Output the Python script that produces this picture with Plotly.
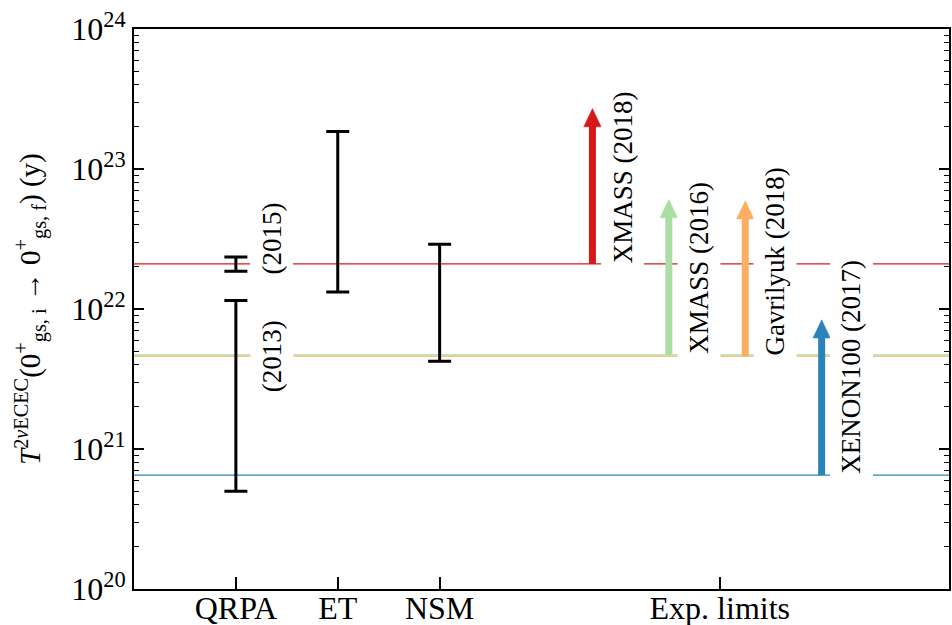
import numpy as np
import plotly.graph_objects as go

# ---------------- data ----------------
theory_names = ["QRPA", "QRPA", "ET", "NSM"]
theory_x = [1, 1, 2, 3]
theory_lo = [5.0e20, 1.86e22, 1.32e22, 4.24e21]
theory_hi = [1.15e22, 2.35e22, 1.85e23, 2.9e22]

exp_names = ["XMASS (2018)", "XMASS (2016)", "Gavrilyuk (2018)", "XENON100 (2017)"]
exp_x = [4.5, 5.25, 6.0, 6.75]
exp_limits = [2.1e22, 4.7e21, 4.6e21, 6.5e20]
exp_colors = ["#d7191c", "#abdda4", "#fdae61", "#2b83ba"]

tick_x = [1, 2, 3, 5.75]
tick_text = ["QRPA", "ET", "NSM", "Exp. limits"]

qrpa_year_labels = ["(2013)", "(2015)"]
qrpa_year_logy = [21.66, 22.50]

ARROW_DECADES = 1.11
HEAD_DECADES = 0.13
HEAD_HALF = 0.085

FONT = "Liberation Serif, Times New Roman, Times, serif"

fig = go.Figure()

# horizontal limit lines (draw order: blue, orange, green, red)
for i in [3, 2, 1, 0]:
    fig.add_trace(go.Scatter(x=[0, 8], y=[exp_limits[i]] * 2, mode="lines",
                             line=dict(color=exp_colors[i], width=1.3),
                             hoverinfo="skip", showlegend=False))

# theory error bars
for x, lo, hi in zip(theory_x, theory_lo, theory_hi):
    mid = float(np.sqrt(lo * hi))
    fig.add_trace(go.Scatter(
        x=[x], y=[mid], mode="markers",
        marker=dict(size=1, color="rgba(0,0,0,0)"),
        error_y=dict(type="data", symmetric=False, array=[hi - mid],
                     arrayminus=[mid - lo], color="black", thickness=3, width=11.5),
        hoverinfo="skip", showlegend=False))

# arrows
for x, lim, c in zip(exp_x, exp_limits, exp_colors):
    tip = lim * 10.0 ** ARROW_DECADES
    base = tip / 10.0 ** HEAD_DECADES
    fig.add_trace(go.Scatter(x=[x, x], y=[lim, base * 1.01], mode="lines",
                             line=dict(color=c, width=7),
                             hoverinfo="skip", showlegend=False))
    fig.add_trace(go.Scatter(x=[x - HEAD_HALF, x + HEAD_HALF, x, x - HEAD_HALF],
                             y=[base, base, tip, base], mode="lines",
                             fill="toself", fillcolor=c, line=dict(color=c, width=0.5),
                             hoverinfo="skip", showlegend=False))

annotations = []
for x, lim, name in zip(exp_x, exp_limits, exp_names):
    annotations.append(dict(x=x, y=float(np.log10(lim)), xref="x", yref="y", text=name,
                            textangle=-90, showarrow=False, xanchor="left",
                            yanchor="bottom", xshift=8, yshift=-6,
                            bgcolor="white", borderpad=6,
                            font=dict(family=FONT, size=27, color="black")))
for lab, ly in zip(qrpa_year_labels, qrpa_year_logy):
    annotations.append(dict(x=1.35, y=ly, xref="x", yref="y", text=lab,
                            textangle=-90, showarrow=False, xanchor="center",
                            yanchor="middle", bgcolor="white", borderpad=6,
                            font=dict(family=FONT, size=27, color="black")))
annotations.append(dict(
    x=(30 - 134) / 815, y=0.5, xref="paper", yref="paper",
    text="<i>T</i><sup>2<i>ν</i>ECEC</sup>(0<sup>+</sup><sub>gs, i</sub> → 0<sup>+</sup><sub>gs, f</sub>) (y)",
    textangle=-90, showarrow=False, xanchor="center", yanchor="middle",
    font=dict(family=FONT, size=29, color="black")))

minor_vals = [float(m) * 10.0 ** e for e in range(20, 24) for m in range(2, 10)]
major_vals = [10.0 ** e for e in range(20, 25)]

fig.update_layout(
    width=952, height=625,
    margin=dict(l=134, r=3, t=29, b=36),
    paper_bgcolor="white", plot_bgcolor="white",
    font=dict(family=FONT, color="black"),
    annotations=annotations,
    xaxis=dict(range=[0, 8], tickvals=tick_x, ticktext=tick_text, automargin=False,
               ticks="inside", ticklen=12, tickwidth=1.5, tickcolor="black",
               showline=True, linecolor="black", linewidth=2, mirror=True,
               showgrid=False, zeroline=False, ticklabelstandoff=-10,
               tickfont=dict(family=FONT, size=32, color="black")),
    yaxis=dict(type="log", range=[20, 24], automargin=False,
               tickvals=major_vals,
               ticktext=["10<sup>%d</sup>" % k for k in range(20, 25)],
               ticks="inside", ticklen=10, tickwidth=1.5, tickcolor="black",
               minor=dict(tickvals=minor_vals, ticks="inside", ticklen=5,
                          tickwidth=1.2, tickcolor="black", showgrid=False),
               showline=True, linecolor="black", linewidth=2, mirror="ticks",
               showgrid=False, zeroline=False,
               tickfont=dict(family=FONT, size=32, color="black")),
)

fig.write_html("out.html")
